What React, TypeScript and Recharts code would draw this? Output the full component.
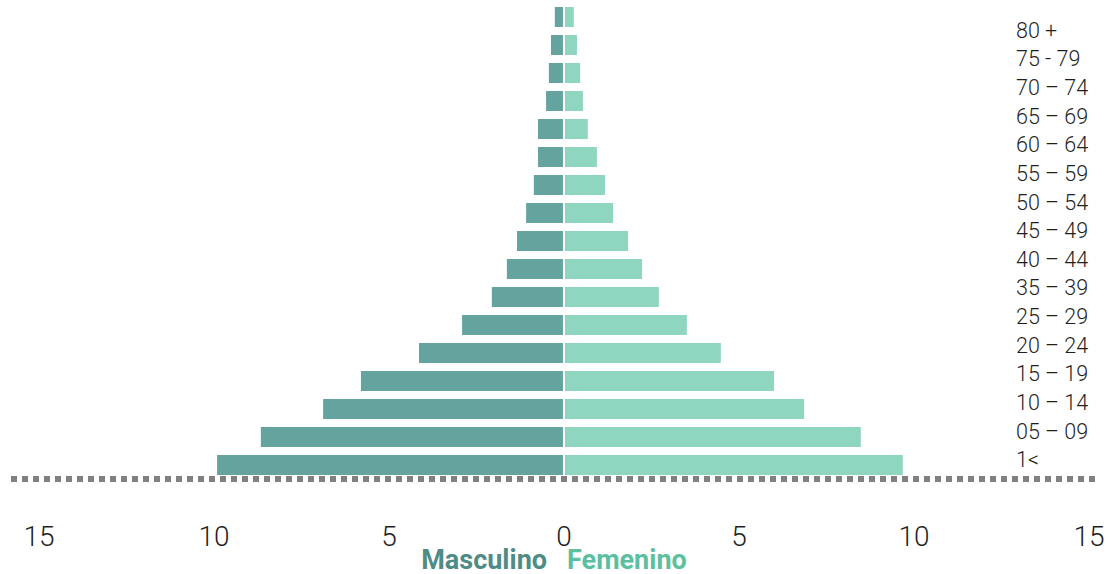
import { BarChart, Bar, XAxis, YAxis, Legend } from 'recharts';

// age groups from top (oldest) to bottom; the bar rows include 30 - 34
const ageGroups = [
  '80 +', '75 - 79', '70 - 74', '65 - 69', '60 - 64', '55 - 59', '50 - 54', '45 - 49',
  '40 - 44', '35 - 39', '30 - 34', '25 - 29', '20 - 24', '15 - 19', '10 - 14', '05 - 09', '1<',
];
// right-hand labels as printed (top to bottom)
const ageLabels = [
  '80 +', '75 - 79', '70 – 74', '65 – 69', '60 – 64', '55 – 59', '50 – 54', '45 – 49',
  '40 – 44', '35 – 39', '25 – 29', '20 – 24', '15 – 19', '10 – 14', '05 – 09', '1<',
];
const masculino = [0.29, 0.4, 0.46, 0.54, 0.77, 0.77, 0.89, 1.11, 1.37, 1.66, 2.09, 2.94, 4.17, 5.83, 6.91, 8.69, 9.94];
const femenino = [0.31, 0.4, 0.49, 0.57, 0.71, 0.97, 1.2, 1.43, 1.86, 2.26, 2.74, 3.54, 4.51, 6.03, 6.89, 8.51, 9.71];
const xTicks = [-15, -10, -5, 0, 5, 10, 15];

const MALE = '#64a39e';
const FEMALE = '#8fd6c1';

const data = ageGroups.map((age, i) => ({
  age,
  masculino: -masculino[i],
  femenino: femenino[i],
}));

const labelRows = ageLabels.map((label) => ({ label, v: 0 }));

const LabelTick = ({ x, y, payload }: any) => (
  <text
    x={x - 81}
    y={y}
    dy="0.35em"
    textAnchor="start"
    fontFamily="Roboto"
    fontWeight={300}
    fontSize={21.5}
    fill="#1f1f1f"
  >
    {payload.value}
  </text>
);

const LegendContent = () => (
  <div
    style={{
      display: 'flex',
      justifyContent: 'center',
      gap: 20,
      fontFamily: 'Roboto',
      fontWeight: 700,
      fontSize: 27,
      lineHeight: '28px',
    }}
  >
    <span style={{ color: '#4f8c86' }}>Masculino</span>
    <span style={{ color: '#5cbf9f' }}>Femenino</span>
  </div>
);

export default function App() {
  return (
    <div style={{ position: 'absolute', left: 0, top: 0, width: 1108, height: 574, background: '#fff' }}>
      <BarChart
        width={1108}
        height={574}
        data={data}
        layout="vertical"
        stackOffset="sign"
        barSize={22}
        margin={{ top: 3, right: 11, bottom: 0, left: 11 }}
      >
        <XAxis
          type="number"
          domain={[-15.8, 15.23]}
          ticks={xTicks}
          tickFormatter={(v: number) => String(Math.abs(v))}
          height={67}
          tickSize={0}
          tickMargin={47}
          tickLine={false}
          axisLine={{ stroke: '#808080', strokeWidth: 6, strokeDasharray: '6 5' }}
          tick={{ fontFamily: 'Roboto', fontWeight: 300, fontSize: 28, fill: '#1f1f1f' }}
        />
        <YAxis type="category" dataKey="age" hide />
        <Legend verticalAlign="bottom" content={<LegendContent />} />
        <Bar
          dataKey="masculino"
          name="Masculino"
          stackId="a"
          fill={MALE}
          stroke="#ffffff"
          strokeWidth={2}
          isAnimationActive={false}
        />
        <Bar
          dataKey="femenino"
          name="Femenino"
          stackId="a"
          fill={FEMALE}
          stroke="#ffffff"
          strokeWidth={2}
          isAnimationActive={false}
        />
      </BarChart>
      {/* age labels, printed on their own spacing (30 - 34 is not listed) */}
      <div style={{ position: 'absolute', left: 0, top: 0, pointerEvents: 'none' }}>
        <BarChart
          width={1108}
          height={574}
          data={labelRows}
          layout="vertical"
          margin={{ top: 16, right: 10, bottom: 100, left: 11 }}
        >
          <XAxis type="number" domain={[0, 1]} hide />
          <YAxis
            type="category"
            dataKey="label"
            orientation="right"
            width={1}
            interval={0}
            tickSize={0}
            tickMargin={0}
            tickLine={false}
            axisLine={false}
            tick={<LabelTick />}
          />
          <Bar dataKey="v" fill="none" isAnimationActive={false} />
        </BarChart>
      </div>
    </div>
  );
}
